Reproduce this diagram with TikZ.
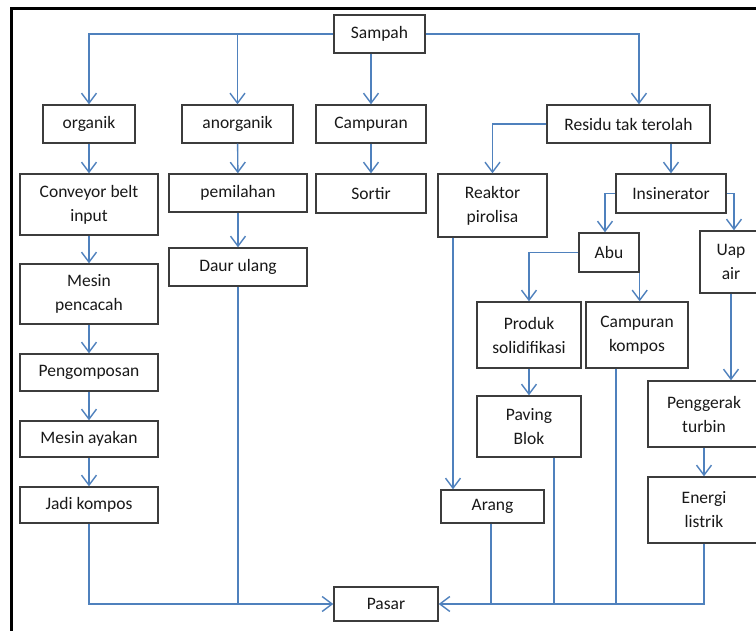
\documentclass[tikz,border=0pt]{standalone}
\usepackage{fontspec}
\setmainfont{Carlito}
\usetikzlibrary{arrows.meta}
\definecolor{conn}{RGB}{79,129,189}
\definecolor{boxline}{RGB}{60,60,60}
\tikzset{
  box/.style={draw=boxline, line width=1.4pt, fill=white, align=center,
    inner sep=0pt, font=\fontsize{17.5}{24}\selectfont, text=black!90},
  link/.style={draw=conn, line width=1.4pt},
  arr/.style={link, -{Straight Barb[length=10pt,width=15pt,line width=1.4pt]}},
}
\begin{document}
\begin{tikzpicture}[x=1pt,y=-1pt]
\clip (0,0) rectangle (756,631);
\fill[white] (0,0) rectangle (756,631);
\draw[black, line width=3pt] (11,631) -- (11,8.5) -- (756,8.5);

% nodes
\node[box, minimum width=91, minimum height=38] (sampah) at (379.5,34) {Sampah};
\node[box, minimum width=92, minimum height=38] (organik) at (89,124) {organik};
\node[box, minimum width=111, minimum height=38] (anorganik) at (237.5,124) {anorganik};
\node[box, minimum width=110, minimum height=38] (campuran) at (371,124) {Campuran};
\node[box, minimum width=163, minimum height=38] (residu) at (628.5,124) {Residu tak terolah};

\node[box, minimum width=138, minimum height=61] (conveyor) at (89,204.5) {Conveyor belt\\input};
\node[box, minimum width=138, minimum height=38] (pemilahan) at (238,193) {pemilahan};
\node[box, minimum width=110, minimum height=39] (sortir) at (371,193.5) {Sortir};
\node[box, minimum width=109, minimum height=63] (reaktor) at (492.5,205.5) {Reaktor\\pirolisa};
\node[box, minimum width=110, minimum height=39] (insinerator) at (671,193.5) {Insinerator};

\node[box, minimum width=138, minimum height=38] (daur) at (238,267) {Daur ulang};
\node[box, minimum width=138, minimum height=60] (pencacah) at (89,294) {Mesin\\pencacah};
\node[box, minimum width=60, minimum height=39] (abu) at (609,252.5) {Abu};
\node[box, minimum width=62, minimum height=62] (uap) at (731,262) {Uap\\air};

\node[box, minimum width=104, minimum height=66] (produk) at (529,335) {Produk\\solidifikasi};
\node[box, minimum width=102, minimum height=66] (campkompos) at (637,335) {Campuran\\kompos};
\node[box, minimum width=138, minimum height=37] (pengomposan) at (89,372.5) {Pengomposan};
\node[box, minimum width=112, minimum height=66] (penggerak) at (704,414) {Penggerak\\turbin};
\node[box, minimum width=104, minimum height=61] (paving) at (529,426.5) {Paving\\Blok};
\node[box, minimum width=138, minimum height=36] (ayakan) at (89,439) {Mesin ayakan};
\node[box, minimum width=112, minimum height=66] (energi) at (704,510) {Energi\\listrik};
\node[box, minimum width=138, minimum height=36] (jadi) at (89,505) {Jadi kompos};
\node[box, minimum width=103, minimum height=33] (arang) at (492.5,506.5) {Arang};
\node[box, minimum width=104, minimum height=34] (pasar) at (386,604) {Pasar};

% connectors from Sampah
\draw[arr] (sampah.west) -| (organik.north);
\draw[arr] (sampah.west -| anorganik.north) -- (anorganik.north);
\draw[arr] (sampah.south -| campuran.north) -- (campuran.north);
\coordinate (resin) at ([xshift=10.5]residu.north);
\draw[arr] (sampah.east) -| (resin);

% left column
\draw[arr] (organik) -- (conveyor);
\draw[arr] (conveyor) -- (pencacah);
\draw[arr] (pencacah) -- (pengomposan);
\draw[arr] (pengomposan) -- (ayakan);
\draw[arr] (ayakan) -- (jadi);

% anorganik / campuran
\draw[arr] (anorganik) -- (pemilahan);
\draw[arr] (pemilahan) -- (daur);
\draw[arr] (campuran) -- (sortir);

% residu
\draw[arr] (residu.west) -| (reaktor.north);
\draw[arr] (residu.south -| insinerator.north) -- (insinerator.north);
\coordinate (abuin) at ([xshift=-4]abu.north);
\draw[arr] (insinerator.west) -| (abuin);
\coordinate (uapin) at ([xshift=3]uap.north);
\draw[arr] (insinerator.east) -| (uapin);
\draw[arr] (abu.west) -| (produk.north);
\draw[arr] (abu.south east) -- (abu.south east |- campkompos.north);
\draw[arr] (produk) -- (paving);
\draw[arr] (uap.south) -- (uap.south |- penggerak.north);
\draw[arr] (penggerak) -- (energi);
\coordinate (reakout) at ([xshift=-39.5]reaktor.south);
\draw[arr] (reakout) -- (reakout |- arang.north);

% to Pasar
\draw[arr] (jadi.south) |- (pasar.west);
\draw[link] (daur.south) -- (daur.south |- pasar.west);
\draw[arr] (energi.south) |- (pasar.east);
\draw[link] ([xshift=-1.5]arang.south) -- ([xshift=-1.5]arang.south |- pasar.east);
\draw[link] ([xshift=25]paving.south) -- ([xshift=25]paving.south |- pasar.east);
\draw[link] ([xshift=-21]campkompos.south) -- ([xshift=-21]campkompos.south |- pasar.east);
\end{tikzpicture}
\end{document}
